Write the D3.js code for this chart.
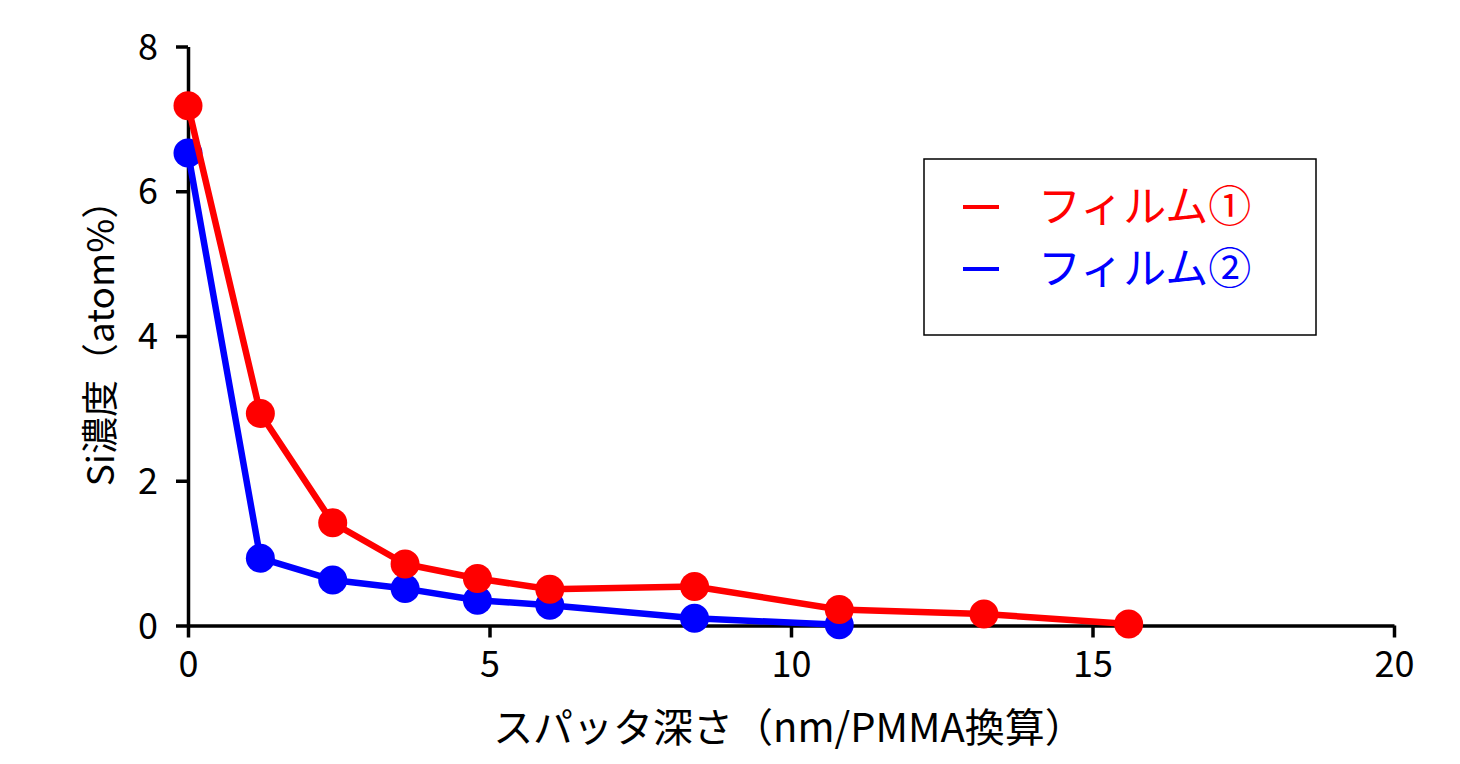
<!DOCTYPE html>
<html><head><meta charset="utf-8">
<script src="https://cdn.jsdelivr.net/npm/d3@7"></script>
<style>
html,body{margin:0;padding:0;background:#fff;}
text{font-family:"Noto Sans CJK JP","Noto Sans",sans-serif;}
</style></head>
<body>
<svg id="chart" width="1460" height="764"></svg>
<script>
const depth1 = [0, 1.2, 2.4, 3.6, 4.8, 6.0, 8.4, 10.8, 13.2, 15.6];
const film1 = [7.18, 2.93, 1.42, 0.85, 0.65, 0.50, 0.54, 0.22, 0.16, 0.02];
const depth2 = [0, 1.2, 2.4, 3.6, 4.8, 6.0, 8.4, 10.8];
const film2 = [6.53, 0.93, 0.63, 0.51, 0.35, 0.28, 0.10, 0.01];
const xTicks = [0, 5, 10, 15, 20];
const yTicks = [0, 2, 4, 6, 8];
const seriesNames = ["フィルム①", "フィルム②"];
const seriesColors = ["#ff0000", "#0000ff"];
const xTitle = "スパッタ深さ（nm/PMMA換算）";
const yTitle = "Si濃度（atom%）";

const svg = d3.select("#chart");
const x = d3.scaleLinear().domain([0, 20]).range([188, 1394]);
const y = d3.scaleLinear().domain([0, 8]).range([625.5, 46.5]);

// axes
const xAxis = svg.append("g").attr("transform", `translate(0,${y(0)})`)
  .call(d3.axisBottom(x).tickValues(xTicks).tickSize(12).tickSizeOuter(0).tickPadding(14).tickFormat(d3.format("d")));
const yAxis = svg.append("g").attr("transform", `translate(${x(0)},0)`)
  .call(d3.axisLeft(y).tickValues(yTicks).tickSize(12).tickSizeOuter(0).tickPadding(18).tickFormat(d3.format("d")));
[xAxis, yAxis].forEach(g => {
  g.select(".domain").attr("stroke", "#000").attr("stroke-width", 3.5);
  g.selectAll(".tick line").attr("stroke", "#000").attr("stroke-width", 3.5);
  g.selectAll(".tick text").attr("font-size", 36).attr("fill", "#000")
    .attr("font-family", "'Noto Sans CJK JP','Noto Sans',sans-serif");
});
xAxis.selectAll(".tick text").attr("dy", "0.71em");
yAxis.selectAll(".tick text").attr("dy", "0.35em");

// series
const series = [
  {xs: depth1, ys: film1, color: seriesColors[0]},
  {xs: depth2, ys: film2, color: seriesColors[1]}
];
const line = d3.line().x(d => x(d[0])).y(d => y(d[1]));
[series[1], series[0]].forEach(s => {
  const pts = s.xs.map((v, i) => [v, s.ys[i]]);
  svg.append("path").datum(pts).attr("d", line)
    .attr("fill", "none").attr("stroke", s.color).attr("stroke-width", 6.5).attr("stroke-linejoin", "round");
  svg.append("g").selectAll("circle").data(pts).join("circle")
    .attr("cx", d => x(d[0])).attr("cy", d => y(d[1])).attr("r", 14.5).attr("fill", s.color);
});

// axis titles
svg.append("text").attr("x", 789).attr("y", 742).attr("text-anchor", "middle")
  .attr("font-size", 40).attr("fill", "#000").text(xTitle);
svg.append("text").attr("transform", "translate(114,334) rotate(-90)").attr("text-anchor", "middle")
  .attr("font-size", 37).attr("fill", "#000").text(yTitle);

// legend
const lg = svg.append("g");
lg.append("rect").attr("x", 924).attr("y", 159).attr("width", 392).attr("height", 176)
  .attr("fill", "#fff").attr("stroke", "#000").attr("stroke-width", 1.5);
seriesNames.forEach((n, i) => {
  const cy = 207 + i * 62;
  lg.append("line").attr("x1", 963).attr("x2", 999).attr("y1", cy).attr("y2", cy)
    .attr("stroke", seriesColors[i]).attr("stroke-width", 4);
  lg.append("text").attr("x", 1038).attr("y", cy).attr("dy", "0.36em")
    .attr("font-size", 43).attr("fill", seriesColors[i]).text(n);
});
</script>
</body></html>
